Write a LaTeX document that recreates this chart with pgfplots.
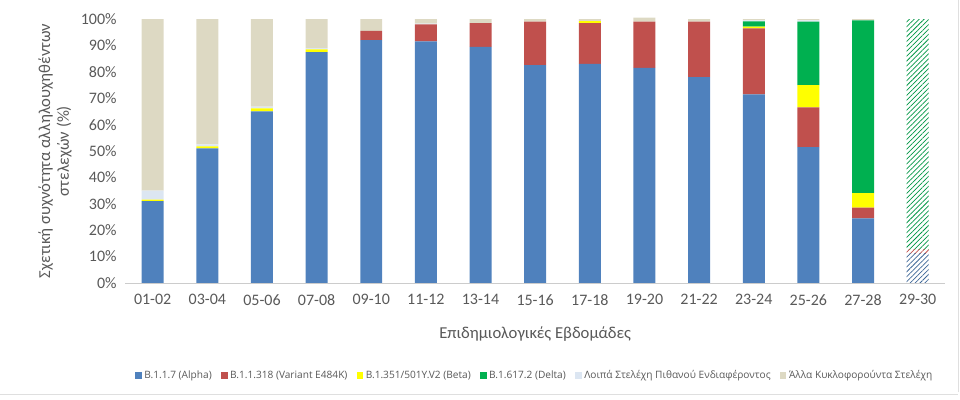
\documentclass[border=0pt]{standalone}
\usepackage{pgfplots}
\pgfplotsset{compat=1.18}
\usepackage{fontspec}
\setmainfont{Carlito}
\newfontfamily\legfont{Open Sans}
\usetikzlibrary{patterns.meta}
\definecolor{cA}{HTML}{4F81BD}
\definecolor{cB}{HTML}{C0504D}
\definecolor{cC}{HTML}{FFFF00}
\definecolor{cD}{HTML}{00B050}
\definecolor{cE}{HTML}{DCE6F2}
\definecolor{cF}{HTML}{DDD9C3}
\definecolor{txt}{HTML}{595959}
\begin{document}
\begin{tikzpicture}
\begin{axis}[
  scale only axis,
  width=615pt, height=198pt,
  ybar stacked,
  bar width=16.5pt,
  xmin=-0.5, xmax=14.5,
  ymin=0, ymax=100,
  xtick=data,
  xticklabels={01-02,03-04,05-06,07-08,09-10,11-12,13-14,15-16,17-18,19-20,21-22,23-24,25-26,27-28,29-30},
  ytick={0,10,...,100},
  yticklabel={\pgfmathprintnumber{\tick}\%},
  /pgf/number format/assume math mode=true,
  tick label style={font=\fontsize{12pt}{14pt}\selectfont, text=txt},
  xticklabel style={yshift=-5pt},
  yticklabel style={xshift=-3pt},
  axis line style={draw=none},
  axis x line*=bottom,
  axis y line*=left,
  x axis line style={draw=gray!40},
  y axis line style={draw=none},
  major tick length=0pt,
  xlabel={Επιδημιολογικές Εβδομάδες},
  xlabel style={font=\fontsize{12.5pt}{15pt}\selectfont, text=txt, yshift=-9pt},
  ylabel={\begin{tabular}{c}Σχετική συχνότητα αλληλουχηθέντων\\στελεχών (\%)\end{tabular}},
  ylabel style={font=\fontsize{12.5pt}{14pt}\selectfont, text=txt, yshift=-2pt},
  legend style={at={(0.5,-0.31)}, anchor=north, legend columns=-1, draw=none,
     font=\legfont\fontsize{7.6pt}{9pt}\selectfont, text=txt,
     /tikz/every even column/.append style={column sep=5pt}},
  legend image code/.code={\fill[#1] (0cm,-0.085cm) rectangle (0.17cm,0.085cm);},
  clip=false,
]
\addplot[fill=cA, draw=none] coordinates {(0,31) (1,51) (2,65) (3,87.5) (4,92) (5,91.5) (6,89.5) (7,82.5) (8,83) (9,81.5) (10,78) (11,71.5) (12,51.5) (13,24.5) (14,0)};
\addplot[fill=cB, draw=none] coordinates {(0,0) (1,0) (2,0) (3,0) (4,3.5) (5,6.5) (6,9) (7,16.5) (8,15.5) (9,17.5) (10,21) (11,25) (12,15) (13,4) (14,0)};
\addplot[fill=cC, draw=none] coordinates {(0,0.6) (1,0.8) (2,1.2) (3,1.0) (4,0) (5,0) (6,0) (7,0) (8,0.7) (9,0) (10,0) (11,0.6) (12,8.5) (13,5.5) (14,0)};
\addplot[fill=cD, draw=none] coordinates {(0,0) (1,0) (2,0) (3,0) (4,0) (5,0) (6,0) (7,0) (8,0) (9,0) (10,0) (11,2) (12,24) (13,65.5) (14,0)};
\addplot[fill=cE, draw=none] coordinates {(0,3.4) (1,0.7) (2,0.6) (3,0.5) (4,0) (5,0.3) (6,0) (7,0) (8,0) (9,0) (10,0) (11,0.4) (12,0.5) (13,0) (14,0)};
\addplot[fill=cF, draw=none] coordinates {(0,65) (1,47.5) (2,33.2) (3,11) (4,4.5) (5,1.7) (6,1.5) (7,1) (8,0.8) (9,1.5) (10,1) (11,0.5) (12,0.5) (13,0.5) (14,0)};
\addplot[draw=none, pattern={Lines[angle=45,distance=2.6pt,line width=0.55pt]}, pattern color=cA!80!black] coordinates {(0,0) (1,0) (2,0) (3,0) (4,0) (5,0) (6,0) (7,0) (8,0) (9,0) (10,0) (11,0) (12,0) (13,0) (14,11)};
\addplot[draw=none, pattern={Lines[angle=45,distance=2.6pt,line width=0.55pt]}, pattern color=cB] coordinates {(0,0) (1,0) (2,0) (3,0) (4,0) (5,0) (6,0) (7,0) (8,0) (9,0) (10,0) (11,0) (12,0) (13,0) (14,1.5)};
\addplot[draw=none, pattern={Lines[angle=45,distance=2.6pt,line width=0.55pt]}, pattern color=cD!85!black] coordinates {(0,0) (1,0) (2,0) (3,0) (4,0) (5,0) (6,0) (7,0) (8,0) (9,0) (10,0) (11,0) (12,0) (13,0) (14,87.5)};
\legend{B.1.1.7 (Alpha), B.1.1.318 (Variant E484K), B.1.351/501Y.V2 (Beta), B.1.617.2 (Delta), Λοιπά Στελέχη Πιθανού Ενδιαφέροντος, Άλλα Κυκλοφορούντα Στελέχη}
\coordinate (o) at (rel axis cs:0,0);
\end{axis}
\path ([shift={(-93.75pt,-87pt)}]o) rectangle ++(720pt,299.25pt);
\draw[gray!25, line width=0.6pt] ([shift={(625pt,-87pt)}]o) ++(0,5pt) -- ++(0,294pt);
\draw[gray!25, line width=0.6pt] ([shift={(-93.75pt,-83.5pt)}]o) -- ++(718.75pt,0);
\end{tikzpicture}
\end{document}
